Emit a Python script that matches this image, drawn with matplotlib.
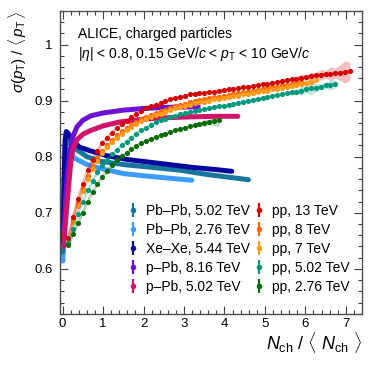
import numpy as np
import matplotlib
matplotlib.use('Agg')
import matplotlib.pyplot as plt

plt.rcParams['font.family'] = ['Liberation Sans', 'DejaVu Sans']
plt.rcParams['mathtext.fontset'] = 'custom'
plt.rcParams['mathtext.rm'] = 'Liberation Sans'
plt.rcParams['mathtext.it'] = 'Liberation Sans:italic'
plt.rcParams['mathtext.bf'] = 'Liberation Sans:bold'

# heavy-ion / p-Pb: very dense points, read along the band
pbpb502_x = [0.005, 0.02, 0.04, 0.06, 0.09, 0.15, 0.3, 0.6, 0.92, 1.5, 2.2, 2.9, 3.6, 4.59]
pbpb502_y = [0.630, 0.680, 0.760, 0.810, 0.830, 0.828, 0.815, 0.800, 0.792, 0.786, 0.781, 0.776, 0.768, 0.759]

pbpb276_x = [0.005, 0.02, 0.04, 0.06, 0.08, 0.15, 0.3, 0.6, 1.0, 1.5, 2.0, 2.6, 3.19]
pbpb276_y = [0.614, 0.660, 0.740, 0.800, 0.815, 0.808, 0.797, 0.786, 0.778, 0.770, 0.766, 0.762, 0.758]

xexe_x = [0.005, 0.02, 0.04, 0.06, 0.09, 0.15, 0.25, 0.42, 0.7, 1.08, 1.6, 2.4, 3.2, 3.8, 4.18]
xexe_y = [0.650, 0.700, 0.780, 0.830, 0.845, 0.840, 0.828, 0.817, 0.810, 0.802, 0.795, 0.788, 0.781, 0.777, 0.774]

ppb816_x = [0.03, 0.05, 0.08, 0.12, 0.18, 0.25, 0.35, 0.5, 0.7, 1.0, 1.5, 2.0, 2.6, 3.35]
ppb816_y = [0.660, 0.690, 0.730, 0.770, 0.810, 0.835, 0.853, 0.865, 0.873, 0.878, 0.883, 0.886, 0.888, 0.889]

ppb502_x = [0.03, 0.05, 0.1, 0.15, 0.2, 0.25, 0.35, 0.5, 0.67, 1.0, 1.41, 2.0, 2.4, 3.14, 3.8, 4.33]
ppb502_y = [0.640, 0.665, 0.710, 0.750, 0.790, 0.812, 0.830, 0.840, 0.846, 0.855, 0.862, 0.867, 0.869, 0.871, 0.872, 0.872]

# pp: multiplicity bins
pp_x = [0.14, 0.26, 0.38, 0.50, 0.62, 0.74, 0.86, 0.98, 1.10, 1.22,
        1.34, 1.46, 1.58, 1.70, 1.82, 1.94, 2.06, 2.18, 2.30, 2.42,
        2.54, 2.66, 2.78, 2.90, 3.02, 3.14, 3.26, 3.38, 3.50, 3.62,
        3.74, 3.86, 3.98, 4.10, 4.22, 4.34, 4.46, 4.58, 4.70, 4.82,
        4.94, 5.06, 5.18, 5.30, 5.42, 5.54, 5.66, 5.78, 5.90, 6.02,
        6.14, 6.26, 6.38, 6.50, 6.62, 6.74, 6.86, 6.98, 7.10]

pp13_y = [0.655, 0.693, 0.725, 0.752, 0.776, 0.795, 0.811, 0.824, 0.834, 0.843,
          0.851, 0.858, 0.864, 0.870, 0.876, 0.881, 0.886, 0.890, 0.893, 0.896,
          0.899, 0.902, 0.904, 0.907, 0.909, 0.911, 0.912, 0.913, 0.914, 0.915,
          0.916, 0.918, 0.919, 0.920, 0.921, 0.922, 0.924, 0.925, 0.926, 0.928,
          0.929, 0.930, 0.932, 0.933, 0.935, 0.937, 0.938, 0.939, 0.941, 0.942,
          0.943, 0.945, 0.946, 0.947, 0.948, 0.949, 0.950, 0.951, 0.952]
pp13_tail_err = [0.003, 0.004, 0.006, 0.004, 0.008, 0.005, 0.010, 0.007, 0.012, 0.009, 0.014, 0.020, 0.016]

pp8_y = [0.652, 0.688, 0.718, 0.743, 0.765, 0.783, 0.798, 0.810, 0.821, 0.830,
         0.838, 0.845, 0.851, 0.857, 0.862, 0.867, 0.871, 0.875, 0.878, 0.881,
         0.884, 0.887, 0.890, 0.892, 0.894, 0.897, 0.899, 0.901, 0.902, 0.904,
         0.906, 0.907, 0.909, 0.910, 0.912, 0.913, 0.915, 0.916, 0.918, 0.919,
         0.921, 0.922, 0.924, 0.925, 0.927, 0.928, 0.930, 0.931, 0.933]

pp7_y = [0.650, 0.684, 0.713, 0.738, 0.760, 0.778, 0.793, 0.806, 0.817, 0.826,
         0.834, 0.841, 0.847, 0.853, 0.858, 0.863, 0.867, 0.871, 0.874, 0.877,
         0.880, 0.883, 0.886, 0.888, 0.890, 0.893, 0.895, 0.897, 0.898, 0.900,
         0.902, 0.903, 0.905, 0.906, 0.908, 0.909, 0.911, 0.912, 0.914, 0.915,
         0.917, 0.918, 0.920, 0.921, 0.923, 0.924, 0.926, 0.928, 0.930, 0.932,
         0.934, 0.936]
pp7_tail_err = [0.003, 0.005, 0.004, 0.009, 0.006, 0.004]

pp502_y = [0.646, 0.672, 0.698, 0.720, 0.740, 0.757, 0.772, 0.785, 0.795, 0.804,
           0.812, 0.820, 0.827, 0.834, 0.841, 0.847, 0.852, 0.857, 0.861, 0.865,
           0.868, 0.871, 0.873, 0.876, 0.878, 0.880, 0.882, 0.883, 0.885, 0.887,
           0.888, 0.890, 0.891, 0.893, 0.894, 0.896, 0.898, 0.900, 0.901, 0.903,
           0.904, 0.906, 0.908, 0.910, 0.911, 0.913, 0.915, 0.916, 0.918, 0.920,
           0.922, 0.923, 0.925, 0.927, 0.928, 0.930]
pp502_tail_err = [0.003, 0.005, 0.004, 0.008, 0.006, 0.012, 0.007, 0.005, 0.006, 0.009, 0.007]

pp276_y = [0.642, 0.662, 0.682, 0.700, 0.720, 0.737, 0.751, 0.764, 0.775, 0.785,
           0.794, 0.801, 0.807, 0.813, 0.819, 0.824, 0.828, 0.832, 0.835, 0.838,
           0.841, 0.844, 0.847, 0.850, 0.852, 0.854, 0.856, 0.858, 0.860, 0.862,
           0.864, 0.866]
pp276_tail_err = [0.003, 0.004, 0.006, 0.005, 0.009, 0.012]

dense = [
    ('Pb\u2013Pb, 2.76 TeV', pbpb276_x, pbpb276_y, '#3d9cff'),
    ('Pb\u2013Pb, 5.02 TeV', pbpb502_x, pbpb502_y, '#18759c'),
    ('Xe\u2013Xe, 5.44 TeV', xexe_x, xexe_y, '#08089e'),
    ('p\u2013Pb, 8.16 TeV', ppb816_x, ppb816_y, '#6c12d6'),
    ('p\u2013Pb, 5.02 TeV', ppb502_x, ppb502_y, '#d2136c'),
]
pp = [
    ('pp, 8 TeV', pp8_y, None, '#ff6a00'),
    ('pp, 7 TeV', pp7_y, pp7_tail_err, '#ff9b1c'),
    ('pp, 13 TeV', pp13_y, pp13_tail_err, '#d40000'),
    ('pp, 5.02 TeV', pp502_y, pp502_tail_err, '#00987a'),
    ('pp, 2.76 TeV', pp276_y, pp276_tail_err, '#076b07'),
]
colors = {lab: c for lab, _, _, c in dense}
colors.update({lab: c for lab, _, _, c in pp})

fig = plt.figure(figsize=(3.74, 3.74), dpi=100)
ax = fig.add_axes([0.160, 0.161, 0.808, 0.810])

for lab, x, y, c in dense:
    ax.plot(x, y, color=c, lw=3.6, solid_capstyle='round', solid_joinstyle='round')

for lab, y, err, c in pp:
    x = np.array(pp_x[:len(y)])
    y = np.array(y)
    ax.plot(x, y, color=c, lw=2.0, alpha=0.3)
    if err is not None:
        n = len(err)
        e = np.array(err)
        ax.fill_between(x[-n:], y[-n:] - e, y[-n:] + e, color=c, alpha=0.25, lw=0)
    ax.plot(x, y, 'o', color=c, ms=3.7, mew=0)

ax.set_xlim(-0.07, 7.4)
ax.set_ylim(0.52, 1.06)
ax.set_xticks([0, 1, 2, 3, 4, 5, 6, 7])
ax.set_xticks(np.arange(0, 7.4, 0.2), minor=True)
ax.set_yticks([0.6, 0.7, 0.8, 0.9, 1.0])
ax.set_yticklabels(['0.6', '0.7', '0.8', '0.9', '1'])
ax.set_yticks(np.arange(0.52, 1.061, 0.02), minor=True)
ax.tick_params(which='both', direction='in', top=True, right=True, labelsize=9.5, width=0.8, color='0.25')
ax.tick_params(which='major', length=6)
ax.tick_params(which='minor', length=3)
ax.tick_params(axis='y', pad=5)
ax.tick_params(axis='x', pad=3)
for s in ax.spines.values():
    s.set_linewidth(1.0)
    s.set_color('0.3')

ax.text(-0.14, 1.0, r'$\sigma(p_{\rm T})$ / $\langle\,p_{\rm T}\,\rangle$', rotation=90,
        ha='center', va='top', fontsize=11, transform=ax.transAxes)
ax.text(1.0, -0.055, r'$N_{\rm ch}$ / $\langle$ $N_{\rm ch}$ $\rangle$',
        ha='right', va='top', fontsize=13, transform=ax.transAxes)

ax.text(0.06, 0.91, 'ALICE, charged particles', fontsize=10, transform=ax.transAxes)
ax.text(0.06, 0.845, r'$|\eta|$ < 0.8, 0.15 GeV/$c$ < $p_{\rm T}$ < 10 GeV/$c$',
        fontsize=10, transform=ax.transAxes)

order = ['Pb\u2013Pb, 5.02 TeV', 'Pb\u2013Pb, 2.76 TeV', 'Xe\u2013Xe, 5.44 TeV',
         'p\u2013Pb, 8.16 TeV', 'p\u2013Pb, 5.02 TeV',
         'pp, 13 TeV', 'pp, 8 TeV', 'pp, 7 TeV', 'pp, 5.02 TeV', 'pp, 2.76 TeV']
handles = []
for lab in order:
    h = ax.errorbar([np.nan], [np.nan], yerr=[1], fmt='o', color=colors[lab], ms=4,
                    mew=0, elinewidth=1.6, capsize=0, label=lab)
    handles.append(h)
ax.legend(handles=handles, ncol=2, loc='upper left', bbox_to_anchor=(0.2185, 0.362),
          frameon=False, fontsize=10, borderpad=0, borderaxespad=0,
          handlelength=1.0, handletextpad=0.43, columnspacing=0.15, labelspacing=0.35)

fig.savefig('out.png', dpi=100)
